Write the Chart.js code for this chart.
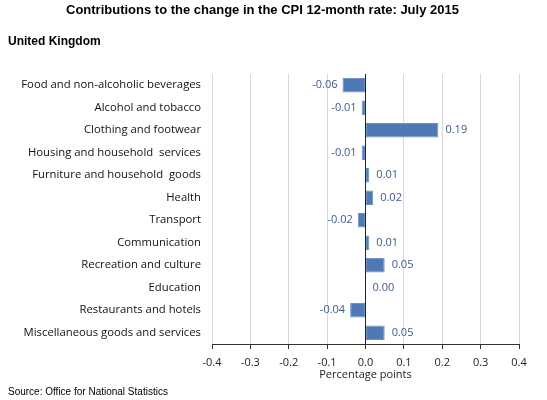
<!DOCTYPE html>
<html>
<head>
<meta charset="utf-8">
<script src="https://cdn.jsdelivr.net/npm/chart.js@4.4.1/dist/chart.umd.min.js"></script>
<style>
  body { margin: 0; background: #fff; }
  #wrap { position: relative; width: 547px; height: 400px; }
  canvas { position: absolute; left: 0; top: 0; }
  .txt { position: absolute; font-family: "Liberation Sans", Arial, sans-serif; color: #000; white-space: nowrap; }
  #titulo { top: 2px; left: 66px; font-size: 13px; font-weight: bold; }
  #sub { top: 34px; left: 8px; font-size: 12px; font-weight: bold; }
  #fuente { top: 386px; left: 8px; font-size: 10px; }
</style>
</head>
<body>
<div id="wrap">
  <canvas id="grafico" width="547" height="400"></canvas>
  <div class="txt" id="titulo">Contributions to the change in the CPI 12-month rate: July 2015</div>
  <div class="txt" id="sub">United Kingdom</div>
  <div class="txt" id="fuente">Source: Office for National Statistics</div>
</div>
<script>
// categorias y contribuciones (puntos porcentuales)
const categorias = [
  "Food and non-alcoholic beverages",
  "Alcohol and tobacco",
  "Clothing and footwear",
  "Housing and household  services",
  "Furniture and household  goods",
  "Health",
  "Transport",
  "Communication",
  "Recreation and culture",
  "Education",
  "Restaurants and hotels",
  "Miscellaneous goods and services"
];
const contribuciones = [-0.06, -0.01, 0.19, -0.01, 0.01, 0.02, -0.02, 0.01, 0.05, 0.00, -0.04, 0.05];
const ticksX = [-0.4, -0.3, -0.2, -0.1, 0.0, 0.1, 0.2, 0.3, 0.4];

const fuenteEtiquetas = '"Open Sans", "Noto Sans", sans-serif';

// plugin simple para las etiquetas de valor
const etiquetasValor = {
  id: "etiquetasValor",
  afterDatasetsDraw(chart) {
    const ctx = chart.ctx;
    const meta = chart.getDatasetMeta(0);
    ctx.save();
    ctx.font = "11px " + fuenteEtiquetas;
    ctx.fillStyle = "#3d5a8a";
    ctx.textBaseline = "middle";
    meta.data.forEach((bar, i) => {
      const v = contribuciones[i];
      const texto = v.toFixed(2);
      if (v < 0) {
        ctx.textAlign = "right";
        ctx.fillText(texto, bar.x - 5, bar.y);
      } else {
        ctx.textAlign = "left";
        ctx.fillText(texto, bar.x + 7, bar.y);
      }
    });
    ctx.restore();
  }
};

new Chart(document.getElementById("grafico"), {
  type: "bar",
  data: {
    labels: categorias,
    datasets: [{
      data: contribuciones,
      backgroundColor: "#4f79b4",
      borderColor: "#6f93c4",
      borderWidth: 1,
      borderSkipped: false,
      barPercentage: 0.64,
      categoryPercentage: 1
    }]
  },
  options: {
    indexAxis: "y",
    responsive: false,
    animation: false,
    layout: { padding: { left: 0, right: 28, top: 74, bottom: 15 } },
    plugins: {
      legend: { display: false },
      tooltip: { enabled: false }
    },
    scales: {
      x: {
        min: -0.4,
        max: 0.4,
        afterBuildTicks(scale) {
          scale.ticks = ticksX.map(v => ({ value: v }));
        },
        afterFit(scale) { scale.height = 41; },
        grid: {
          color: (c) => (c.tick && Math.abs(c.tick.value) < 1e-9 ? "#222" : "#d9d9d9"),
          tickColor: "#333",
          tickLength: 5,
          drawTicks: true
        },
        border: { display: true, color: "#333", width: 1 },
        ticks: {
          callback: (v) => Number(v).toFixed(1),
          color: "#222",
          font: { size: 11, family: fuenteEtiquetas },
          padding: 7,
          maxRotation: 0
        },
        title: {
          display: true,
          text: "Percentage points",
          color: "#222",
          font: { size: 11, family: fuenteEtiquetas },
          padding: { top: 0, bottom: 4 }
        }
      },
      y: {
        afterFit(scale) { scale.width = 212; },
        grid: { display: false },
        border: { display: false },
        ticks: {
          color: "#111",
          font: { size: 11.3, family: fuenteEtiquetas },
          padding: 3,
          autoSkip: false
        }
      }
    }
  },
  plugins: [etiquetasValor]
});
</script>
</body>
</html>
